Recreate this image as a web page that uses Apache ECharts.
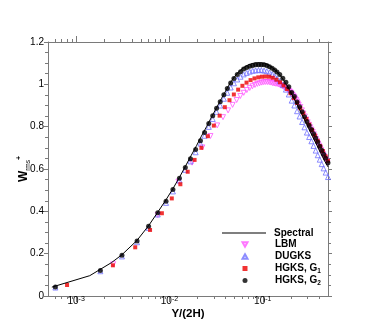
<!DOCTYPE html>
<html>
<head>
<meta charset="utf-8">
<script src="https://cdn.jsdelivr.net/npm/echarts@6/dist/echarts.min.js"></script>
<style>
html, body { margin: 0; padding: 0; background: #fff; }
#main { width: 374px; height: 332px; }
</style>
</head>
<body>
<div id="main"></div>
<script>
// Y/(2H) on a log axis, W_rms+ on a linear one
const specX = [0.00055, 0.0014, 0.0024, 0.0031, 0.0045, 0.006, 0.0075, 0.0092, 0.011, 0.013, 0.015, 0.017, 0.0195, 0.022, 0.025, 0.028, 0.032, 0.036, 0.04, 0.045, 0.05, 0.056, 0.063, 0.07, 0.078, 0.087, 0.096, 0.105, 0.115, 0.126, 0.138, 0.152, 0.17, 0.19, 0.215, 0.24, 0.27, 0.3, 0.34, 0.38, 0.42, 0.46, 0.5];
const specY = [0.042, 0.096, 0.158, 0.195, 0.263, 0.333, 0.396, 0.455, 0.51, 0.566, 0.617, 0.662, 0.71, 0.755, 0.8, 0.842, 0.89, 0.932, 0.968, 1.008, 1.037, 1.062, 1.08, 1.092, 1.099, 1.102, 1.102, 1.099, 1.092, 1.08, 1.065, 1.045, 1.015, 0.98, 0.935, 0.893, 0.848, 0.805, 0.755, 0.712, 0.672, 0.638, 0.61];

const lbmX = [0.0025, 0.0075, 0.0125, 0.0175, 0.0225, 0.0275, 0.0325, 0.0375, 0.0425, 0.0475, 0.0525, 0.0575, 0.0625, 0.0675, 0.0725, 0.0775, 0.0825, 0.0875, 0.0925, 0.0975, 0.1025, 0.1075, 0.1125, 0.1175, 0.1225, 0.1275, 0.1325, 0.1375, 0.1425, 0.1475, 0.1525, 0.1575, 0.1625, 0.1675, 0.1725, 0.1775, 0.1825, 0.1875, 0.1925, 0.1975, 0.2025, 0.2075, 0.2125, 0.2175, 0.2225, 0.2275, 0.2325, 0.2375, 0.2425, 0.2525, 0.2625, 0.2725, 0.2825, 0.2925, 0.3025, 0.3125, 0.3225, 0.3325, 0.3425, 0.3525, 0.3625, 0.3725, 0.3825, 0.3925, 0.4025, 0.4125, 0.4225, 0.4325, 0.4425, 0.4525, 0.4625, 0.4725, 0.4825, 0.4925];
const lbmY = [0.15, 0.383, 0.54, 0.63, 0.702, 0.756, 0.806, 0.845, 0.877, 0.903, 0.926, 0.945, 0.96, 0.973, 0.983, 0.991, 0.997, 1.002, 1.005, 1.008, 1.01, 1.011, 1.011, 1.01, 1.008, 1.006, 1.004, 1.003, 1.002, 1.0, 0.998, 0.995, 0.992, 0.988, 0.985, 0.981, 0.977, 0.972, 0.968, 0.963, 0.958, 0.952, 0.946, 0.94, 0.933, 0.926, 0.918, 0.91, 0.903, 0.893, 0.877, 0.862, 0.848, 0.834, 0.821, 0.809, 0.797, 0.786, 0.775, 0.764, 0.753, 0.742, 0.731, 0.72, 0.71, 0.7, 0.69, 0.68, 0.671, 0.662, 0.653, 0.645, 0.637, 0.63];

const dugksX = [0.0006, 0.00182, 0.0031, 0.0045, 0.00598, 0.0075, 0.0092, 0.0109, 0.0128, 0.0148, 0.0168, 0.0191, 0.0215, 0.0238, 0.0264, 0.0291, 0.032, 0.035, 0.0383, 0.0417, 0.0453, 0.0491, 0.0533, 0.0578, 0.0624, 0.0673, 0.0725, 0.078, 0.0838, 0.09, 0.0965, 0.1033, 0.1105, 0.118, 0.126, 0.134, 0.142, 0.152, 0.164, 0.177, 0.19, 0.204, 0.218, 0.233, 0.248, 0.264, 0.28, 0.297, 0.314, 0.332, 0.35, 0.369, 0.388, 0.408, 0.428, 0.449, 0.472, 0.5];
const dugksY = [0.04, 0.117, 0.187, 0.254, 0.322, 0.385, 0.44, 0.494, 0.546, 0.596, 0.636, 0.679, 0.72, 0.757, 0.799, 0.836, 0.87, 0.9, 0.932, 0.96, 0.985, 1.005, 1.023, 1.036, 1.047, 1.054, 1.06, 1.064, 1.066, 1.067, 1.067, 1.065, 1.062, 1.056, 1.048, 1.039, 1.028, 1.015, 0.996, 0.975, 0.952, 0.923, 0.9, 0.873, 0.848, 0.822, 0.797, 0.772, 0.751, 0.731, 0.709, 0.687, 0.665, 0.644, 0.623, 0.603, 0.583, 0.562];

const g1X = [0.0008, 0.00248, 0.0043, 0.0062, 0.0083, 0.0106, 0.0131, 0.0157, 0.0186, 0.022, 0.0258, 0.0299, 0.0345, 0.0392, 0.044, 0.049, 0.0545, 0.0605, 0.067, 0.074, 0.0815, 0.0895, 0.098, 0.107, 0.117, 0.128, 0.14, 0.153, 0.167, 0.182, 0.198, 0.215, 0.233, 0.252, 0.272, 0.293, 0.315, 0.338, 0.362, 0.387, 0.413, 0.44, 0.47, 0.5];
const g1Y = [0.052, 0.145, 0.23, 0.312, 0.391, 0.461, 0.528, 0.587, 0.643, 0.7, 0.755, 0.805, 0.852, 0.892, 0.925, 0.952, 0.975, 0.993, 1.008, 1.02, 1.028, 1.033, 1.036, 1.037, 1.036, 1.031, 1.022, 1.01, 0.995, 0.978, 0.958, 0.935, 0.912, 0.887, 0.862, 0.836, 0.81, 0.784, 0.758, 0.733, 0.708, 0.685, 0.66, 0.638];

const g2X = [0.0006, 0.00182, 0.0031, 0.0045, 0.00598, 0.0075, 0.0092, 0.0109, 0.0128, 0.0148, 0.0168, 0.0191, 0.0215, 0.0238, 0.0264, 0.0291, 0.032, 0.035, 0.0383, 0.0417, 0.0453, 0.0491, 0.0533, 0.0578, 0.0624, 0.0673, 0.0725, 0.078, 0.0838, 0.09, 0.0965, 0.1033, 0.1105, 0.118, 0.126, 0.134, 0.142, 0.152, 0.164, 0.177, 0.19, 0.204, 0.218, 0.233, 0.248, 0.264, 0.28, 0.297, 0.314, 0.332, 0.35, 0.369, 0.388, 0.408, 0.428, 0.449, 0.472, 0.5];
const g2Y = [0.043, 0.121, 0.192, 0.26, 0.329, 0.393, 0.448, 0.503, 0.556, 0.607, 0.648, 0.692, 0.734, 0.772, 0.815, 0.852, 0.887, 0.918, 0.951, 0.98, 1.006, 1.027, 1.046, 1.06, 1.072, 1.079, 1.085, 1.089, 1.092, 1.093, 1.093, 1.092, 1.089, 1.083, 1.076, 1.068, 1.058, 1.046, 1.029, 1.01, 0.989, 0.962, 0.942, 0.917, 0.894, 0.87, 0.847, 0.824, 0.805, 0.787, 0.767, 0.747, 0.727, 0.708, 0.688, 0.67, 0.651, 0.63];

const xRange = [0.0005, 0.5];
const xMajor = [0.001, 0.01, 0.1];
const xMinor = [0.0006, 0.0007, 0.0008, 0.0009, 0.002, 0.003, 0.004, 0.005, 0.006, 0.007, 0.008, 0.009, 0.02, 0.03, 0.04, 0.05, 0.06, 0.07, 0.08, 0.09, 0.2, 0.3, 0.4];

const FONT = '"Liberation Sans", Arial, Helvetica, sans-serif';
const AXIS = '#7a7a7a';
const lg = v => Math.log10(v);
const pts = (xs, ys) => xs.map((x, i) => [lg(x), ys[i]]);

function xAxisDef(pos, ticks, len, withLine, withLabel) {
    return {
        type: 'value', position: pos,
        min: lg(xRange[0]), max: lg(xRange[1]),
        splitLine: { show: false },
        axisLine: { show: withLine, lineStyle: { color: AXIS, width: 1 } },
        axisTick: { show: true, customValues: ticks.map(lg), length: len, lineStyle: { color: AXIS } },
        axisLabel: withLabel ? {
            customValues: ticks.map(lg),
            formatter: v => '{b|10}{s|' + Math.round(v) + '}',
            margin: 0,
            rich: {
                b: { fontFamily: FONT, fontSize: 10, color: '#000', lineHeight: 10, verticalAlign: 'bottom' },
                s: { fontFamily: FONT, fontSize: 7, color: '#000', lineHeight: 10, verticalAlign: 'top' }
            }
        } : { show: false },
        name: withLabel ? 'Y/(2H)' : '',
        nameLocation: 'middle',
        nameGap: 12,
        nameMoveOverlap: false,
        nameTextStyle: { fontFamily: FONT, fontSize: 11.5, fontWeight: 'bold', color: '#000', verticalAlign: 'top' }
    };
}

function yAxisDef(pos, withLabel) {
    return {
        type: 'value', position: pos,
        min: 0, max: 1.2, interval: 0.2,
        splitLine: { show: false },
        axisLine: { show: true, lineStyle: { color: AXIS, width: 1 } },
        axisTick: { show: true, length: 4, lineStyle: { color: AXIS } },
        minorTick: { show: true, splitNumber: 4, length: 3, lineStyle: { color: AXIS } },
        axisLabel: withLabel ? { fontFamily: FONT, fontSize: 10, color: '#000', margin: 4 } : { show: false },
        name: withLabel ? '{w|W}{r|rms}{p|+}' : '',
        nameLocation: 'middle',
        nameRotate: 90,
        nameGap: 16,
        nameMoveOverlap: false,
        nameTextStyle: {
            rich: {
                w: { fontFamily: FONT, fontSize: 12, fontWeight: 'bold', color: '#000', lineHeight: 16, verticalAlign: 'middle' },
                r: { fontFamily: FONT, fontSize: 6.5, color: '#000', lineHeight: 16, verticalAlign: 'bottom' },
                p: { fontFamily: FONT, fontSize: 7, fontWeight: 'bold', color: '#000', lineHeight: 16, verticalAlign: 'top' }
            }
        }
    };
}

const legendText = pad => ({
    fontFamily: FONT, fontSize: 10, fontWeight: 'bold', color: '#000',
    lineHeight: 12, padding: [0, 0, 0, pad],
    rich: { sub: { fontFamily: FONT, fontSize: 6.5, fontWeight: 'bold', color: '#000', lineHeight: 12, verticalAlign: 'bottom', padding: [0, 0, 0, 0] } }
});

const chart = echarts.init(document.getElementById('main'), null, { renderer: 'canvas' });
chart.setOption({
    backgroundColor: '#fff',
    animation: false,
    grid: { left: 48, right: 46, top: 42, bottom: 36, outerBoundsMode: 'none' },
    xAxis: [
        xAxisDef('bottom', xMajor, 6, true, true),
        xAxisDef('bottom', xMinor, 3, false, false),
        xAxisDef('top', xMajor, 6, true, false),
        xAxisDef('top', xMinor, 3, false, false)
    ],
    yAxis: [yAxisDef('left', true), yAxisDef('right', false)],
    legend: [
        {
            orient: 'vertical', left: 222, top: 227, padding: 0,
            itemWidth: 44, itemHeight: 1, itemGap: 0,
            data: [{ name: 'Spectral', icon: 'rect' }],
            textStyle: legendText(3)
        },
        {
            orient: 'vertical', left: 241.5, top: 238.5, padding: 0,
            itemWidth: 5, itemHeight: 5, itemGap: 0,
            data: ['LBM', 'DUGKS', 'HGKS, G1', 'HGKS, G2'],
            formatter: n => n.replace(/G(\d)/, 'G{sub|$1}'),
            textStyle: legendText(22.5)
        }
    ],
    series: [
        {
            name: 'Spectral', type: 'line', data: pts(specX, specY),
            symbol: 'none', lineStyle: { color: '#000', width: 1 }, itemStyle: { color: '#000' }
        },
        {
            name: 'LBM', type: 'scatter', data: pts(lbmX, lbmY),
            symbol: 'path://M0,0 L10,0 L5,9 Z', symbolSize: 5,
            itemStyle: { color: 'rgba(255,255,255,0)', borderColor: '#ff55ff', borderWidth: 1 }
        },
        {
            name: 'DUGKS', type: 'scatter', data: pts(dugksX, dugksY),
            symbol: 'path://M5,0 L10,9 L0,9 Z', symbolSize: 5,
            itemStyle: { color: 'rgba(255,255,255,0)', borderColor: '#6f6fff', borderWidth: 1 }
        },
        {
            name: 'HGKS, G1', type: 'scatter', data: pts(g1X, g1Y),
            symbol: 'rect', symbolSize: 4, itemStyle: { color: '#ee0000' }
        },
        {
            name: 'HGKS, G2', type: 'scatter', data: pts(g2X, g2Y),
            symbol: 'circle', symbolSize: 5, itemStyle: { color: '#000' }
        }
    ]
});
</script>
</body>
</html>
